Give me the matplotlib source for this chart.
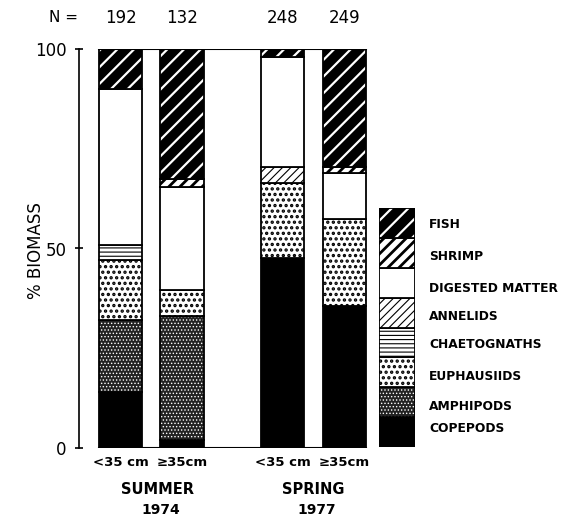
import matplotlib
matplotlib.use("Agg")
import matplotlib.pyplot as plt

# stomach contents, % biomass, bars left to right
sizes = ['<35 cm', '\u226535cm', '<35 cm', '\u226535cm']
n_fish = [192, 132, 248, 249]
seasons = ['SUMMER', 'SPRING']
years = ['1974', '1977']

prey = ['COPEPODS', 'AMPHIPODS', 'EUPHAUSIIDS', 'CHAETOGNATHS',
        'ANNELIDS', 'DIGESTED MATTER', 'SHRIMP', 'FISH']
copepods = [14, 2, 47.5, 35.5]
amphipods = [18, 31, 0, 0]
euphausiids = [15, 6.5, 19, 22]
chaetognaths = [4, 0, 0, 0]
annelids = [0, 0, 4, 0]
digested = [39, 26, 27.5, 11.5]
shrimp = [0, 2, 0, 1.5]
fish = [10, 32.5, 2, 29.5]
values = [copepods, amphipods, euphausiids, chaetognaths,
          annelids, digested, shrimp, fish]

# face, hatch, hatch colour, hatch linewidth
styles = {
    'COPEPODS': ('black', None, 'black', 1.0),
    'AMPHIPODS': ('#222222', '.....', 'white', 0.6),
    'EUPHAUSIIDS': ('white', '...', 'black', 1.6),
    'CHAETOGNATHS': ('white', '----', 'black', 0.8),
    'ANNELIDS': ('white', '////', 'black', 0.8),
    'DIGESTED MATTER': ('white', None, 'black', 1.0),
    'SHRIMP': ('white', '///', 'black', 2.0),
    'FISH': ('black', '//', 'white', 1.6),
}

plt.rcParams['hatch.linewidth'] = 1.2


def segment(ax, x, bottom, height, width, name):
    face, hatch, hc, hlw = styles[name]
    b = ax.bar(x, height, width, bottom=bottom, color=face, edgecolor=hc,
               hatch=hatch, linewidth=0)
    for p in b:
        if hasattr(p, 'set_hatch_linewidth'):
            p.set_hatch_linewidth(hlw)
    ax.bar(x, height, width, bottom=bottom, fill=False, edgecolor='black',
           linewidth=1.3)


W, H = 571, 518
fig = plt.figure(figsize=(W / 100, H / 100), dpi=100)
ax = fig.add_axes([79 / W, 70 / H, 290 / W, 399 / H])

pos = [0, 1, 2.64, 3.64]
bw = 0.7
for i, x in enumerate(pos):
    bottom = 0
    for name, vals in zip(prey, values):
        if vals[i] > 0:
            segment(ax, x, bottom, vals[i], bw, name)
        bottom += vals[i]

# frame along top and bottom of the bar block
ax.plot([pos[0] - bw / 2, pos[-1] + bw / 2], [100, 100], color='black', lw=1.5)
ax.plot([pos[0] - bw / 2, pos[-1] + bw / 2], [0, 0], color='black', lw=1.5)

ax.set_xlim(-0.675, 4.04)
ax.set_ylim(0, 100)
for s in ['top', 'right', 'bottom']:
    ax.spines[s].set_visible(False)
ax.spines['left'].set_linewidth(1.2)
ax.set_xticks([])
ax.set_yticks([0, 50, 100])
ax.tick_params(axis='y', direction='inout', length=6, width=1.2, pad=6,
               labelsize=12)

ax.text(-0.92, 107.8, 'N =', ha='center', va='center', fontsize=11)
for x, n, s in zip(pos, n_fish, sizes):
    ax.text(x, 107.8, str(n), ha='center', va='center', fontsize=12)
    ax.text(x, -3.6, s, ha='center', va='center', fontsize=9.5,
            fontweight='bold')
for x, se, yr in zip([(pos[0] + pos[1]) / 2 + 0.1, (pos[2] + pos[3]) / 2 + 0.0],
                     seasons, years):
    ax.text(x, -10.3, se, ha='center', va='center', fontsize=10.5,
            fontweight='bold')
    ax.text(x + 0.05, -15.6, yr, ha='center', va='center', fontsize=10,
            fontweight='bold')

fig.text(36 / W, 1 - 251 / H, '% BIOMASS', rotation=90, ha='center',
         va='center', fontsize=12)

# legend as a stacked column of swatches
lax = fig.add_axes([379 / W, 71 / H, 36 / W, 239 / H])
for k, name in enumerate(prey):
    segment(lax, 0.5, k, 1, 1, name)
lax.set_xlim(0, 1)
lax.set_ylim(0, 8)
lax.axis('off')

label_y = [428, 407, 377, 345, 317, 288, 257, 225]
for name, py in zip(prey, label_y):
    fig.text(429 / W, 1 - py / H, name, ha='left', va='center', fontsize=8.8,
             fontweight='bold')

fig.savefig('out.png', dpi=100)
